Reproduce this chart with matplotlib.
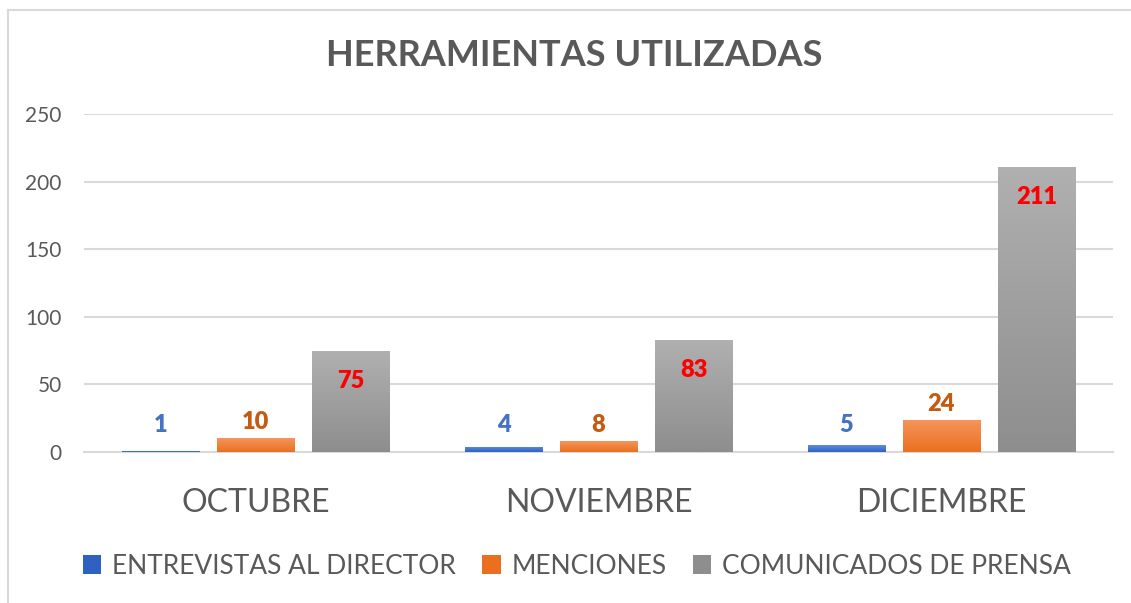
import matplotlib.pyplot as plt
import numpy as np
from matplotlib.lines import Line2D
from matplotlib.patches import Patch

# data
meses = ["OCTUBRE", "NOVIEMBRE", "DICIEMBRE"]
series = ["ENTREVISTAS AL DIRECTOR", "MENCIONES", "COMUNICADOS DE PRENSA"]
entrevistas = [1, 4, 5]
menciones = [10, 8, 24]
comunicados = [75, 83, 211]

plt.rcParams['font.family'] = ['Lato', 'DejaVu Sans']

colores_top = ["#5E8EDB", "#F5955C", "#B0B0B0"]
colores_bot = ["#2F62C0", "#EA7020", "#8E8E8E"]
colores_lbl = ["#4472C4", "#C55A11", "#FF0000"]

fig = plt.figure(figsize=(11.31, 6.03), dpi=100)
ax = fig.add_axes([84 / 1131, 1 - 452 / 603, 1029 / 1131, 338 / 603])

x = np.arange(len(meses))
ancho = 0.225
paso = 0.277

valores = [entrevistas, menciones, comunicados]
for i, vals in enumerate(valores):
    pos = x + (i - 1) * paso
    bars = ax.bar(pos, vals, ancho, color=colores_bot[i], zorder=3, label=series[i])
    # gradient fill like Excel
    c1 = np.array(plt.matplotlib.colors.to_rgb(colores_top[i]))
    c2 = np.array(plt.matplotlib.colors.to_rgb(colores_bot[i]))
    t = np.linspace(0, 1, 64)[:, None]
    grad = (c1 * (1 - t) + c2 * t)[:, None, :]
    for b in bars:
        x0, y0 = b.get_x(), b.get_y()
        w, h = b.get_width(), b.get_height()
        im = ax.imshow(grad, extent=[x0, x0 + w, y0, y0 + h], aspect='auto',
                       origin='upper', zorder=4)
        im.set_clip_path(b)
    for p, v in zip(pos, vals):
        if i == 2:
            ax.annotate(str(v), (p, v), xytext=(0, -30), textcoords='offset pixels',
                        ha='center', va='center', fontsize=17, fontweight='heavy',
                        color=colores_lbl[i], zorder=6)
        else:
            ax.annotate(str(v), (p, max(v, 8)), xytext=(0, 16), textcoords='offset pixels',
                        ha='center', va='center', fontsize=17, fontweight='heavy',
                        color=colores_lbl[i], zorder=6)

ax.set_xlim(-0.5, 2.5)
ax.set_ylim(0, 250)
ax.set_yticks([0, 50, 100, 150, 200, 250])
ax.set_xticks(x)
ax.set_xticklabels(meses, fontsize=23, color="#595959")
ax.tick_params(axis='y', labelsize=15, labelcolor="#595959", length=0, pad=16)
ax.tick_params(axis='x', length=0, pad=26)
ax.grid(axis='y', color="#D9D9D9", linewidth=1.5, zorder=0)
for s in ['top', 'right', 'left']:
    ax.spines[s].set_visible(False)
ax.spines['bottom'].set_color("#D9D9D9")
ax.spines['bottom'].set_linewidth(1.5)

fig.text(0.508, 1 - 55 / 603, "HERRAMIENTAS UTILIZADAS", ha='center', va='center',
         fontsize=26, fontweight='bold', color="#595959")

handles = [Patch(facecolor=colores_bot[i]) for i in range(3)]
fig.legend(handles, series, loc='center', bbox_to_anchor=(0.51, 1 - 566 / 603), ncol=3,
           frameon=False, fontsize=19, labelcolor="#595959", handlelength=0.7,
           handleheight=0.7, handletextpad=0.4, columnspacing=1.0)

# chart border (partially visible)
fig.add_artist(Line2D([8 / 1131, 8 / 1131], [0, 1 - 10 / 603], color="#D9D9D9", lw=1.5))
fig.add_artist(Line2D([8 / 1131, 1], [1 - 10 / 603, 1 - 10 / 603], color="#D9D9D9", lw=1.5))

fig.savefig("out.png", dpi=100)
